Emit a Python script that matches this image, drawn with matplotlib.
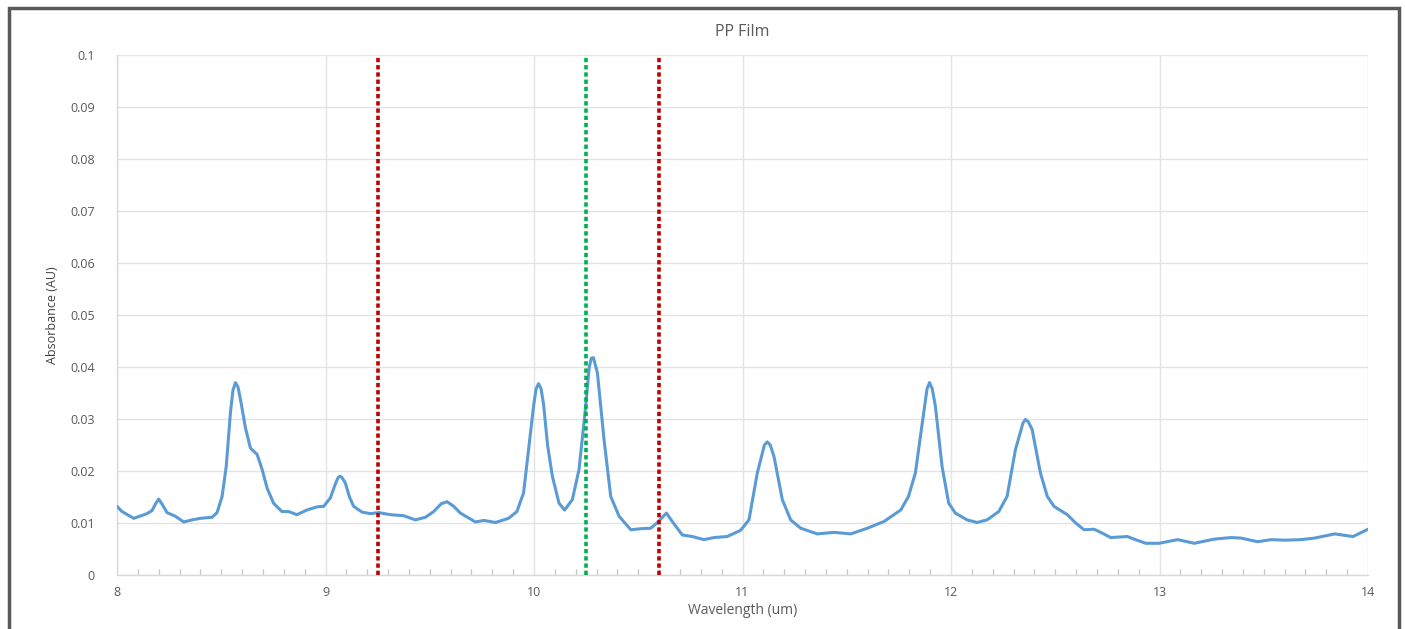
import matplotlib
matplotlib.use("Agg")
import matplotlib.pyplot as plt
from matplotlib.ticker import MultipleLocator
from matplotlib.patches import Rectangle

wavelength = [8.00, 8.024, 8.05, 8.08, 8.144, 8.168, 8.185, 8.20, 8.215, 8.24, 8.28, 8.32, 8.36, 8.40,
              8.456, 8.48, 8.504, 8.524, 8.544, 8.556, 8.568, 8.58, 8.592, 8.616, 8.64, 8.672, 8.696,
              8.72, 8.751, 8.791, 8.823, 8.863, 8.911, 8.959, 8.991, 9.023, 9.05, 9.06, 9.068, 9.078,
              9.095, 9.115, 9.135, 9.175, 9.215, 9.255, 9.311, 9.375, 9.431, 9.479, 9.519, 9.555,
              9.583, 9.615, 9.647, 9.719, 9.759, 9.815, 9.878, 9.918, 9.95, 9.974, 9.998, 10.01,
              10.022, 10.034, 10.046, 10.065, 10.088, 10.12, 10.147, 10.184, 10.216, 10.248, 10.265,
              10.275, 10.285, 10.304, 10.336, 10.368, 10.408, 10.464, 10.512, 10.56, 10.592, 10.635,
              10.663, 10.711, 10.759, 10.815, 10.863, 10.927, 10.991, 11.031, 11.071, 11.105, 11.119,
              11.133, 11.151, 11.191, 11.231, 11.279, 11.359, 11.439, 11.519, 11.599, 11.679, 11.759,
              11.796, 11.829, 11.869, 11.885, 11.897, 11.91, 11.925, 11.957, 11.989, 12.021, 12.077,
              12.125, 12.173, 12.229, 12.269, 12.309, 12.345, 12.357, 12.37, 12.389, 12.429, 12.462,
              12.494, 12.558, 12.598, 12.638, 12.686, 12.718, 12.766, 12.846, 12.878, 12.934, 12.998,
              13.087, 13.167, 13.263, 13.343, 13.391, 13.471, 13.535, 13.599, 13.679, 13.744, 13.84,
              13.928, 14.0]
absorbance = [0.0132, 0.0122, 0.0116, 0.0109, 0.0118, 0.0124, 0.0137, 0.0146, 0.0137, 0.0120, 0.0113,
              0.0102, 0.0106, 0.0109, 0.0111, 0.0120, 0.0151, 0.0209, 0.0312, 0.0355, 0.0370, 0.0362,
              0.0338, 0.0283, 0.0244, 0.0232, 0.0203, 0.0167, 0.0138, 0.0122, 0.0122, 0.0116, 0.0125,
              0.0131, 0.0132, 0.0148, 0.0178, 0.0187, 0.0190, 0.0188, 0.0177, 0.0150, 0.0132, 0.0121,
              0.0118, 0.0120, 0.0116, 0.0114, 0.0106, 0.0111, 0.0122, 0.0137, 0.0141, 0.0132, 0.0119,
              0.0102, 0.0105, 0.0101, 0.0109, 0.0122, 0.0158, 0.0241, 0.0325, 0.0358, 0.0368, 0.0358,
              0.0328, 0.0250, 0.0190, 0.0138, 0.0125, 0.0145, 0.0203, 0.0325, 0.0400, 0.0417, 0.0418,
              0.0389, 0.0260, 0.0151, 0.0113, 0.0087, 0.0089, 0.0090, 0.0101, 0.0119, 0.0103, 0.0077,
              0.0074, 0.0068, 0.0072, 0.0074, 0.0086, 0.0106, 0.0196, 0.0250, 0.0256, 0.0250, 0.0228,
              0.0145, 0.0106, 0.0090, 0.0079, 0.0082, 0.0079, 0.0090, 0.0103, 0.0125, 0.0151, 0.0196,
              0.0312, 0.0358, 0.0370, 0.0358, 0.0325, 0.0209, 0.0138, 0.0119, 0.0106, 0.0101, 0.0106,
              0.0122, 0.0151, 0.0241, 0.0292, 0.0299, 0.0295, 0.0280, 0.0196, 0.0151, 0.0132, 0.0116,
              0.0100, 0.0087, 0.0088, 0.0082, 0.0072, 0.0074, 0.0069, 0.0061, 0.0061, 0.0068, 0.0061,
              0.0069, 0.0072, 0.0071, 0.0064, 0.0068, 0.0067, 0.0068, 0.0071, 0.0079, 0.0074, 0.0088]

red_markers = [9.25, 10.6]
green_markers = [10.25]

plt.rcParams['font.family'] = ['Open Sans', 'DejaVu Sans']

fig = plt.figure(figsize=(14.05, 6.29), dpi=100)
ax = fig.add_axes([117/1405, 1-575/629, (1368-117)/1405, (575-55)/629])

# outer frame
fig.patches.append(Rectangle((9/1405, -0.05), (1399-9)/1405, 1.05 - 8/629,
                             transform=fig.transFigure, fill=False,
                             edgecolor='#595959', linewidth=2.5))

ax.plot(wavelength, absorbance, color='#5B9BD5', linewidth=2.2,
        solid_joinstyle='round', solid_capstyle='round', zorder=3)

for x in red_markers:
    ax.axvline(x, color='#C00000', linestyle=(0, (1.2, 0.8)), linewidth=2.6, zorder=4)
for x in green_markers:
    ax.axvline(x, color='#00B050', linestyle=(0, (1.2, 0.8)), linewidth=2.6, zorder=4)

ax.set_xlim(8, 14)
ax.set_ylim(0, 0.1)
ax.xaxis.set_major_locator(MultipleLocator(1))
ax.xaxis.set_minor_locator(MultipleLocator(0.1))
ax.set_yticks([i / 100 for i in range(11)])
ax.set_yticklabels(['0'] + ['0.%02d' % i for i in range(1, 10)] + ['0.1'])

ax.grid(True, which='major', color='#E3E3E3', linewidth=1.0, zorder=0)
ax.set_axisbelow(True)
for s in ['top', 'right']:
    ax.spines[s].set_visible(False)
for s in ['left', 'bottom']:
    ax.spines[s].set_color('#D9D9D9')
    ax.spines[s].set_linewidth(1.0)

ax.tick_params(axis='x', which='major', length=0, pad=8, labelsize=9, labelcolor='#595959')
ax.tick_params(axis='x', which='minor', direction='in', length=4, color='#C8C8C8', width=1)
ax.tick_params(axis='y', which='major', length=0, pad=16, labelsize=9, labelcolor='#595959')

ax.set_title('PP Film', fontsize=11.5, color='#595959', pad=14)
ax.set_xlabel('Wavelength (um)', fontsize=10, color='#595959', labelpad=3)
ax.set_ylabel('Absorbance (AU)', fontsize=9, color='#404040', labelpad=8,
              family=['Liberation Sans Narrow', 'Open Sans', 'DejaVu Sans'])

fig.savefig('out.png', dpi=100, facecolor='white')
